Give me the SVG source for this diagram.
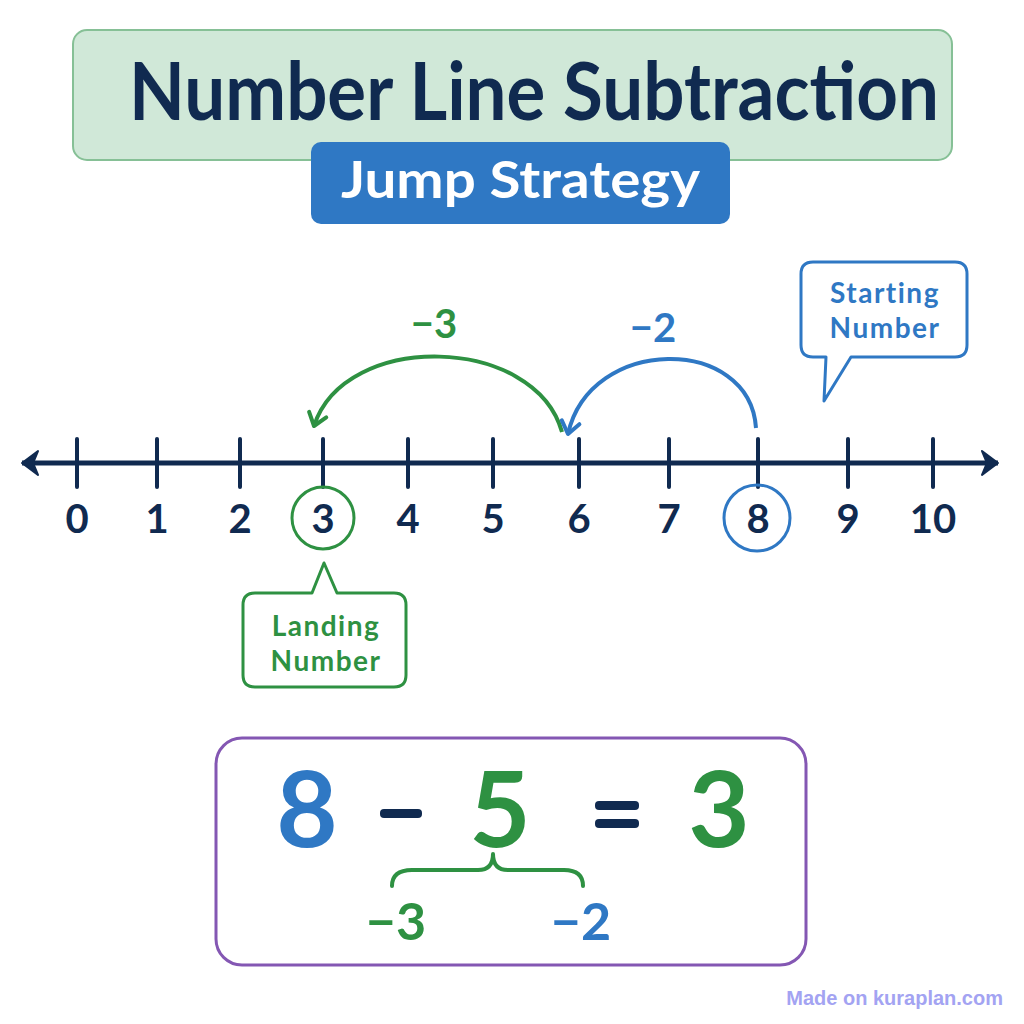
<svg xmlns="http://www.w3.org/2000/svg" width="1024" height="1024" viewBox="0 0 1024 1024">
<defs>
<style>
text{font-family:Lato,"Open Sans","DejaVu Sans",sans-serif;font-weight:700}
.navy{fill:#102a50}
.blue{fill:#2f78c4}
.green{fill:#2e9142}
.tick{stroke:#102a50;stroke-width:4;stroke-linecap:round}
.num{font-size:40px;text-anchor:middle;fill:#102a50}
.call{font-size:28px;text-anchor:middle;letter-spacing:1.5px}
</style>
<marker id="hGreen" markerUnits="userSpaceOnUse" markerWidth="30" markerHeight="30" viewBox="-15 -15 30 30" refX="0" refY="0" orient="auto">
<path d="M-12,-9 L0,0 L-12,9" fill="none" stroke="#2e9142" stroke-width="4" stroke-linecap="round" stroke-linejoin="round"/>
</marker>
<marker id="hBlue" markerUnits="userSpaceOnUse" markerWidth="30" markerHeight="30" viewBox="-15 -15 30 30" refX="0" refY="0" orient="auto">
<path d="M-12,-9 L0,0 L-12,9" fill="none" stroke="#2f78c4" stroke-width="4" stroke-linecap="round" stroke-linejoin="round"/>
</marker>
<marker id="hLine" markerUnits="userSpaceOnUse" markerWidth="30" markerHeight="30" viewBox="-20 -15 30 30" refX="0" refY="0" orient="auto-start-reverse">
<path d="M-16,-12 L0,0 L-16,12 L-11,0 Z" fill="#102a50" stroke="#102a50" stroke-width="2" stroke-linejoin="round"/>
</marker>
</defs>
<rect width="1024" height="1024" fill="#ffffff"/>

<g id="title">
<rect x="73" y="30" width="879" height="130" rx="14" fill="#d0e8d8" stroke="#86c096" stroke-width="2"/>
<text x="129" y="120" font-size="80" class="navy" textLength="810" lengthAdjust="spacingAndGlyphs">Number Line Subtraction</text>
</g>
<g id="subtitle">
<rect x="311" y="142" width="419" height="82" rx="10" fill="#2f78c4"/>
<text x="341" y="198" font-size="52" fill="#ffffff" textLength="359" lengthAdjust="spacingAndGlyphs">Jump Strategy</text>
</g>

<g id="number-line">
<line x1="22" y1="463" x2="998" y2="463" stroke="#102a50" stroke-width="5" marker-start="url(#hLine)" marker-end="url(#hLine)"/>
<line class="tick" x1="77" y1="439" x2="77" y2="487"/>
<line class="tick" x1="157" y1="439" x2="157" y2="487"/>
<line class="tick" x1="240" y1="439" x2="240" y2="487"/>
<line class="tick" x1="323" y1="439" x2="323" y2="487"/>
<line class="tick" x1="408" y1="439" x2="408" y2="487"/>
<line class="tick" x1="493" y1="439" x2="493" y2="487"/>
<line class="tick" x1="579" y1="439" x2="579" y2="487"/>
<line class="tick" x1="669" y1="439" x2="669" y2="487"/>
<line class="tick" x1="758" y1="439" x2="758" y2="487"/>
<line class="tick" x1="848" y1="439" x2="848" y2="487"/>
<line class="tick" x1="933" y1="439" x2="933" y2="487"/>
<text class="num" x="77" y="533">0</text>
<text class="num" x="157" y="533">1</text>
<text class="num" x="240" y="533">2</text>
<text class="num" x="323" y="533">3</text>
<text class="num" x="408" y="533">4</text>
<text class="num" x="493" y="533">5</text>
<text class="num" x="579" y="533">6</text>
<text class="num" x="669" y="533">7</text>
<text class="num" x="758" y="533">8</text>
<text class="num" x="848" y="533">9</text>
<text class="num" x="933" y="533">10</text>
</g>

<g id="landing-circle">
<circle cx="323" cy="518" r="31" fill="none" stroke="#2e9142" stroke-width="3"/>
</g>
<g id="start-circle">
<circle cx="757" cy="518" r="33" fill="none" stroke="#2f78c4" stroke-width="3"/>
</g>

<g id="connectors">
<path d="M562,432 C535,335 345,330 314,426" fill="none" stroke="#2e9142" stroke-width="4" marker-end="url(#hGreen)"/>
<path d="M756,428 C750,335 590,335 568,434" fill="none" stroke="#2f78c4" stroke-width="4" marker-end="url(#hBlue)"/>
</g>

<g id="jump-labels">
<text x="434" y="338" font-size="40" text-anchor="middle" class="green">−3</text>
<text x="653" y="342" font-size="40" text-anchor="middle" class="blue">−2</text>
</g>

<g id="starting-callout">
<path d="M813,262 H955 Q967,262 967,274 V345 Q967,357 955,357 H851 L824,401 L826,357 H813 Q801,357 801,345 V274 Q801,262 813,262 Z" fill="#ffffff" stroke="#2f78c4" stroke-width="3" stroke-linejoin="round"/>
<text class="call blue" x="885" y="303">Starting</text>
<text class="call blue" x="885" y="338">Number</text>
</g>

<g id="landing-callout">
<path d="M255,593 H312 L324,563 L337,593 H394 Q406,593 406,605 V675 Q406,687 394,687 H255 Q243,687 243,675 V605 Q243,593 255,593 Z" fill="#ffffff" stroke="#2e9142" stroke-width="3" stroke-linejoin="round"/>
<text class="call green" x="326" y="636">Landing</text>
<text class="call green" x="326" y="671">Number</text>
</g>

<g id="equation">
<rect x="216" y="738" width="590" height="227" rx="26" fill="#ffffff" stroke="#8457b3" stroke-width="3"/>
<text x="307" y="847" font-size="106" text-anchor="middle" class="blue">8</text>
<rect x="380" y="809" width="42" height="9" rx="4" fill="#102a50"/>
<text x="500" y="847" font-size="106" text-anchor="middle" class="green">5</text>
<rect x="595" y="801" width="44" height="9" rx="4" fill="#102a50"/>
<rect x="595" y="819" width="44" height="9" rx="4" fill="#102a50"/>
<text x="719" y="847" font-size="106" text-anchor="middle" class="green">3</text>
<path d="M392,886 Q392,870 412,870 H478 Q493,870 493,854 Q493,870 508,870 H564 Q583,870 583,886" fill="none" stroke="#2e9142" stroke-width="4" stroke-linecap="round" stroke-linejoin="round"/>
<text x="396" y="940" font-size="52" text-anchor="middle" class="green">−3</text>
<text x="581" y="940" font-size="52" text-anchor="middle" class="blue">−2</text>
</g>

<text x="1003" y="1005" font-size="20" text-anchor="end" fill="#a3a3f2" style="font-family:'Liberation Sans',Arial,sans-serif">Made on kuraplan.com</text>
</svg>
